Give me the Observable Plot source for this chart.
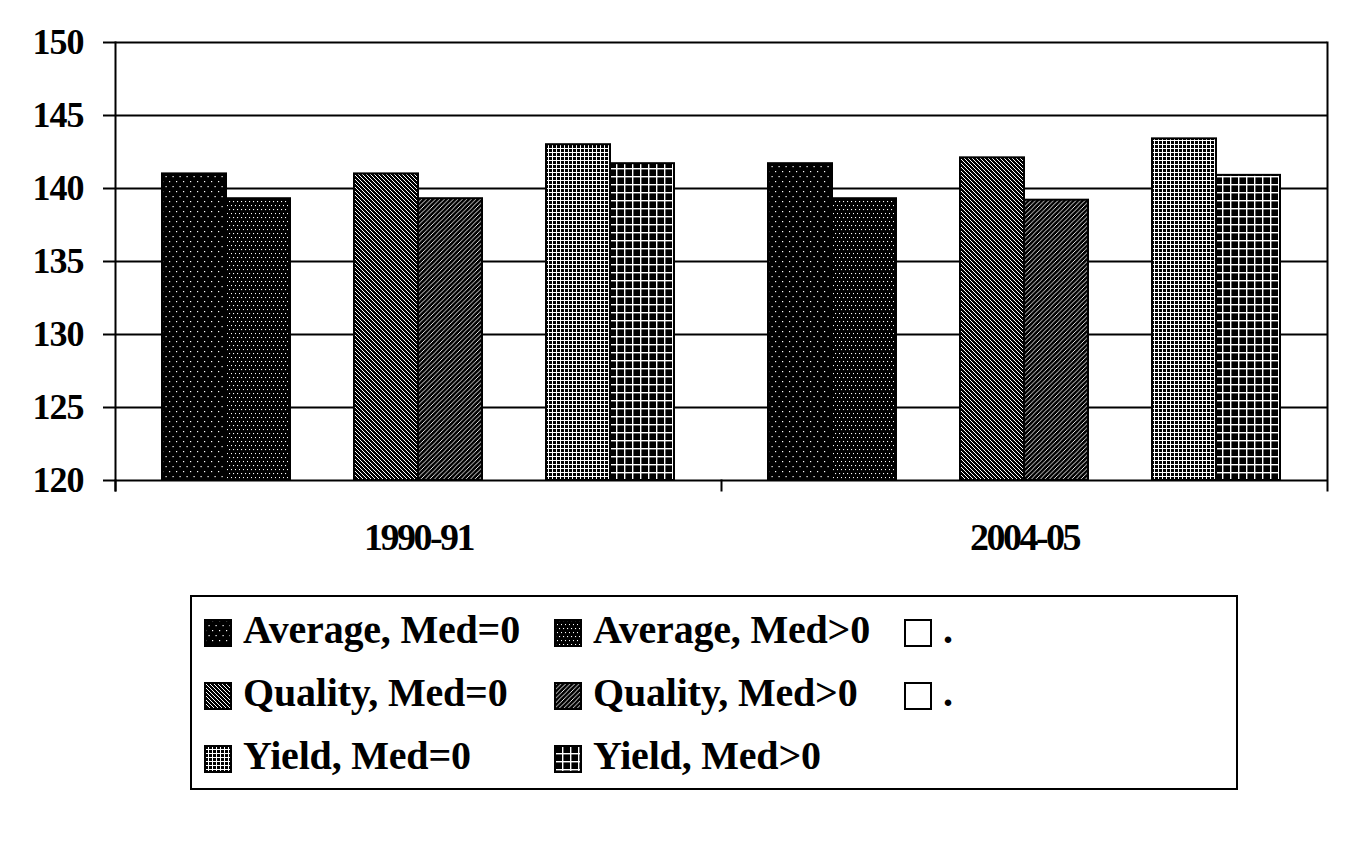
<!DOCTYPE html>
<html>
<head>
<meta charset="utf-8">
<script src="https://cdn.jsdelivr.net/npm/d3@7"></script>
<script src="https://cdn.jsdelivr.net/npm/@observablehq/plot@0.6"></script>
<style>
html, body { margin: 0; padding: 0; background: #fff; }
#wrap { position: relative; width: 1366px; height: 849px; font-family: "Liberation Serif", "Times New Roman", serif; font-weight: bold; color: #000; }
#chart { position: absolute; left: 0; top: 0; }
#legend { position: absolute; left: 190px; top: 595px; width: 1044px; height: 191px; border: 2px solid #000; }
.item { position: absolute; display: flex; align-items: center; height: 44px; }
.item svg { display: block; margin-right: 11px; }
.lab { font-size: 40px; position: relative; top: -4px; white-space: nowrap; letter-spacing: -0.2px; }
#chart svg [aria-label="y-axis tick label"] text { letter-spacing: -1px; }
#chart svg [aria-label="fx-axis tick label"] text { letter-spacing: -2.5px; }
</style>
</head>
<body>
<svg width="0" height="0" style="position:absolute">
  <defs>
    <pattern id="pat-avg0" patternUnits="userSpaceOnUse" width="7" height="10">
      <rect width="7" height="10" fill="#000"/>
      <rect x="1" y="1" width="1.2" height="1.2" fill="#fff"/>
      <rect x="4.5" y="6" width="1.2" height="1.2" fill="#fff"/>
    </pattern>
    <pattern id="pat-avgpos" patternUnits="userSpaceOnUse" width="4" height="8">
      <rect width="4" height="8" fill="#000"/>
      <rect x="1" y="1" width="1.1" height="1.1" fill="#fff"/>
      <rect x="3" y="5" width="1.1" height="1.1" fill="#fff"/>
    </pattern>
    <pattern id="pat-qual0" patternUnits="userSpaceOnUse" width="4" height="4">
      <rect width="4" height="4" fill="#000"/>
      <path d="M-1,-1 L5,5 M-1,3 L1,5 M3,-1 L5,1" stroke="#fff" stroke-width="1"/>
    </pattern>
    <pattern id="pat-qualpos" patternUnits="userSpaceOnUse" width="4.5" height="4.5">
      <rect width="4.5" height="4.5" fill="#000"/>
      <path d="M-1,5.5 L5.5,-1 M-1,1 L1,-1 M3.5,5.5 L5.5,3.5" stroke="#fff" stroke-width="0.9"/>
    </pattern>
    <pattern id="pat-yield0" patternUnits="userSpaceOnUse" width="4" height="4">
      <rect width="4" height="4" fill="#000"/>
      <rect x="0" y="0" width="4" height="1" fill="#fff"/>
      <rect x="0" y="0" width="1" height="4" fill="#fff"/>
    </pattern>
    <pattern id="pat-yieldpos" patternUnits="userSpaceOnUse" width="8" height="8">
      <rect width="8" height="8" fill="#000"/>
      <rect x="0" y="0" width="8" height="1.4" fill="#fff"/>
      <rect x="0" y="0" width="1.4" height="8" fill="#fff"/>
    </pattern>
  </defs>
</svg>
<div id="wrap">
  <div id="chart"></div>
  <div id="legend"></div>
</div>
<script>
// ---- data ----
const categories = ["1990-91", "2004-05"];
const seriesNames = ["Average, Med=0", "Average, Med>0", "blank-1", "Quality, Med=0", "Quality, Med>0", "blank-2", "Yield, Med=0", "Yield, Med>0"];
const legendLabels = ["Average, Med=0", "Average, Med>0", ".", "Quality, Med=0", "Quality, Med>0", ".", "Yield, Med=0", "Yield, Med>0"];
const averageMed0 = [141.0, 141.7];
const averageMedPos = [139.3, 139.3];
const qualityMed0 = [141.0, 142.1];
const qualityMedPos = [139.3, 139.2];
const yieldMed0 = [143.0, 143.4];
const yieldMedPos = [141.7, 140.9];
const yTicks = [120, 125, 130, 135, 140, 145, 150];

const seriesValues = {
  "Average, Med=0": averageMed0,
  "Average, Med>0": averageMedPos,
  "Quality, Med=0": qualityMed0,
  "Quality, Med>0": qualityMedPos,
  "Yield, Med=0": yieldMed0,
  "Yield, Med>0": yieldMedPos
};
const patternFill = {
  "Average, Med=0": "url(#pat-avg0)",
  "Average, Med>0": "url(#pat-avgpos)",
  "blank-1": "#fff",
  "Quality, Med=0": "url(#pat-qual0)",
  "Quality, Med>0": "url(#pat-qualpos)",
  "blank-2": "#fff",
  "Yield, Med=0": "url(#pat-yield0)",
  "Yield, Med>0": "url(#pat-yieldpos)"
};

const rows = [];
for (const s of seriesNames) {
  const vals = seriesValues[s];
  if (!vals) continue;
  categories.forEach((c, i) => rows.push({category: c, series: s, value: vals[i]}));
}

// ---- layout ----
const W = 1366, H = 580, mTop = 42, mLeft = 115, mRight = 39, mBottom = 100;
const innerH = H - mTop - mBottom;

const chart = Plot.plot({
  width: W, height: H,
  marginTop: mTop, marginLeft: mLeft, marginRight: mRight, marginBottom: mBottom,
  style: {fontFamily: '"Liberation Serif", "Times New Roman", serif', fontWeight: "bold", color: "#000", background: "#fff", overflow: "visible"},
  fx: {domain: categories, padding: 0, label: null},
  x: {domain: seriesNames, paddingInner: 0, paddingOuter: 0.73, axis: null},
  y: {domain: [yTicks[0], yTicks[yTicks.length - 1]], label: null},
  color: {type: "ordinal", domain: seriesNames, range: seriesNames.map(s => patternFill[s])},
  marks: [
    Plot.gridY(yTicks, {stroke: "#000", strokeOpacity: 1, strokeWidth: 2}),
    Plot.barY(rows, {fx: "category", x: "series", y1: yTicks[0], y2: "value", fill: "series", stroke: "#000", strokeWidth: 2}),
    Plot.frame({anchor: "left", facetAnchor: "left", insetBottom: -10, stroke: "#000", strokeWidth: 2}),
    Plot.frame({anchor: "right", facetAnchor: "right", insetBottom: -10, stroke: "#000", strokeWidth: 2}),
    Plot.frame({anchor: "left", insetTop: innerH, insetBottom: -10, stroke: "#000", strokeWidth: 2}),
    Plot.axisY(yTicks, {tickSize: 12, tickPadding: 20, fontSize: 36, strokeWidth: 2, label: null}),
    Plot.axisFx({anchor: "bottom", tickSize: 0, tickPadding: 43, fontSize: 38, label: null})
  ]
});
document.getElementById("chart").appendChild(chart);

// ---- legend ----
const legend = document.getElementById("legend");
const colLeft = [12, 362, 712];
const rowCenter = [36, 99, 162];
seriesNames.forEach((s, i) => {
  const r = Math.floor(i / 3), c = i % 3;
  const item = document.createElement("div");
  item.className = "item";
  item.style.left = colLeft[c] + "px";
  item.style.top = (rowCenter[r] - 22) + "px";
  item.innerHTML = `<svg width="28" height="28"><rect x="1" y="1" width="26" height="26" fill="${patternFill[s]}" stroke="#000" stroke-width="2"/></svg><span class="lab"></span>`;
  item.querySelector(".lab").textContent = legendLabels[i];
  legend.appendChild(item);
});
</script>
</body>
</html>
